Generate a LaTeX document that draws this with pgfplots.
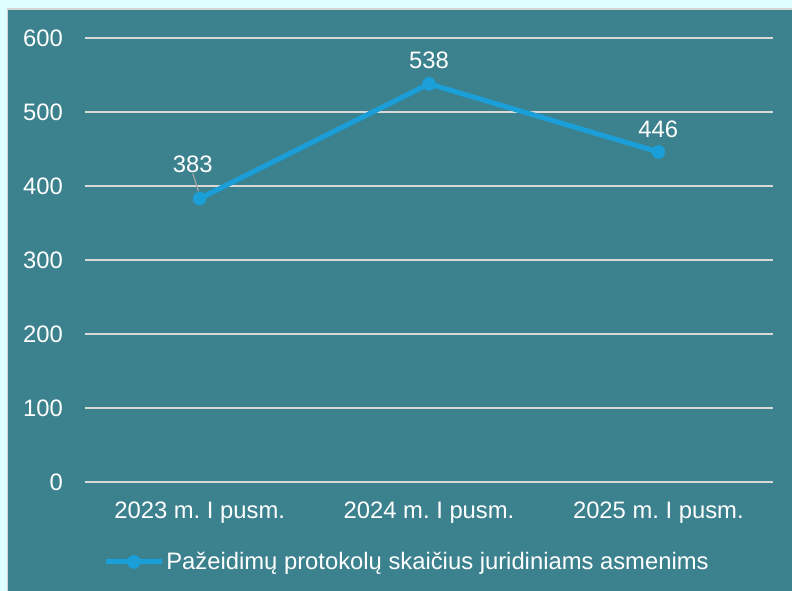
\documentclass[border=0pt]{standalone}
\usepackage{fontspec}
\setmainfont{Liberation Sans}
\usepackage{pgfplots}
\pgfplotsset{compat=1.18}
\definecolor{bgcyan}{HTML}{DDFFFF}
\definecolor{panel}{HTML}{3C818E}
\definecolor{frame}{HTML}{D4D4D4}
\definecolor{gridc}{HTML}{D9D9D9}
\definecolor{series}{HTML}{1B9FD9}
\newcommand{\fs}{\fontsize{23.8bp}{27bp}\selectfont}
\frenchspacing

\begin{document}
\begin{tikzpicture}[x=1bp,y=1bp]
\useasboundingbox (0,0) rectangle (792,591);
\fill[bgcyan] (0,0) rectangle (792,591);
\fill[panel, draw=frame, line width=1.5bp] (7.5,-2) rectangle (795,582);
\begin{axis}[
    at={(85bp,109bp)}, anchor=south west,
    scale only axis,
    width=688bp, height=444bp,
    xmin=-0.5, xmax=2.5,
    ymin=0, ymax=600,
    axis line style={draw=none},
    xtick={0,1,2},
    xticklabels={2023 m.\ I pusm., 2024 m.\ I pusm., 2025 m.\ I pusm.},
    ytick={0,100,...,600},
    ymajorgrids,
    major grid style={gridc, line width=1.6bp},
    major tick length=0pt,
    tick label style={font=\fs, text=white},
    /pgf/number format/assume math mode=true,
    xticklabel style={anchor=center, yshift=-31bp},
    yticklabel style={anchor=east, inner sep=0pt, xshift=-22bp},
    clip=false,
    legend style={at={(0.468,-0.18)}, anchor=center, draw=none, fill=none,
        font=\fs, text=white, inner sep=0pt},
    legend cell align=left,
    legend image code/.code={
        \draw[mark repeat=2, mark phase=2, #1] plot coordinates {(0bp,0bp) (28bp,0bp) (56bp,0bp)};
    },
]
\addplot[series, line width=5bp, mark=*, mark size=6.5bp, mark options={fill=series, draw=series, line width=0.5bp}]
    coordinates {(0,383) (1,538) (2,446)};
\addlegendentry{Pažeidimų protokolų skaičius juridiniams asmenims}
\draw[gray!70, line width=1.2bp] (axis cs:-0.03,417) -- (axis cs:-0.005,393);
\node[font=\fs, text=white] at (axis cs:-0.03,429) {383};
\node[font=\fs, text=white] at (axis cs:1,570) {538};
\node[font=\fs, text=white] at (axis cs:2,476) {446};
\end{axis}
\end{tikzpicture}
\end{document}
